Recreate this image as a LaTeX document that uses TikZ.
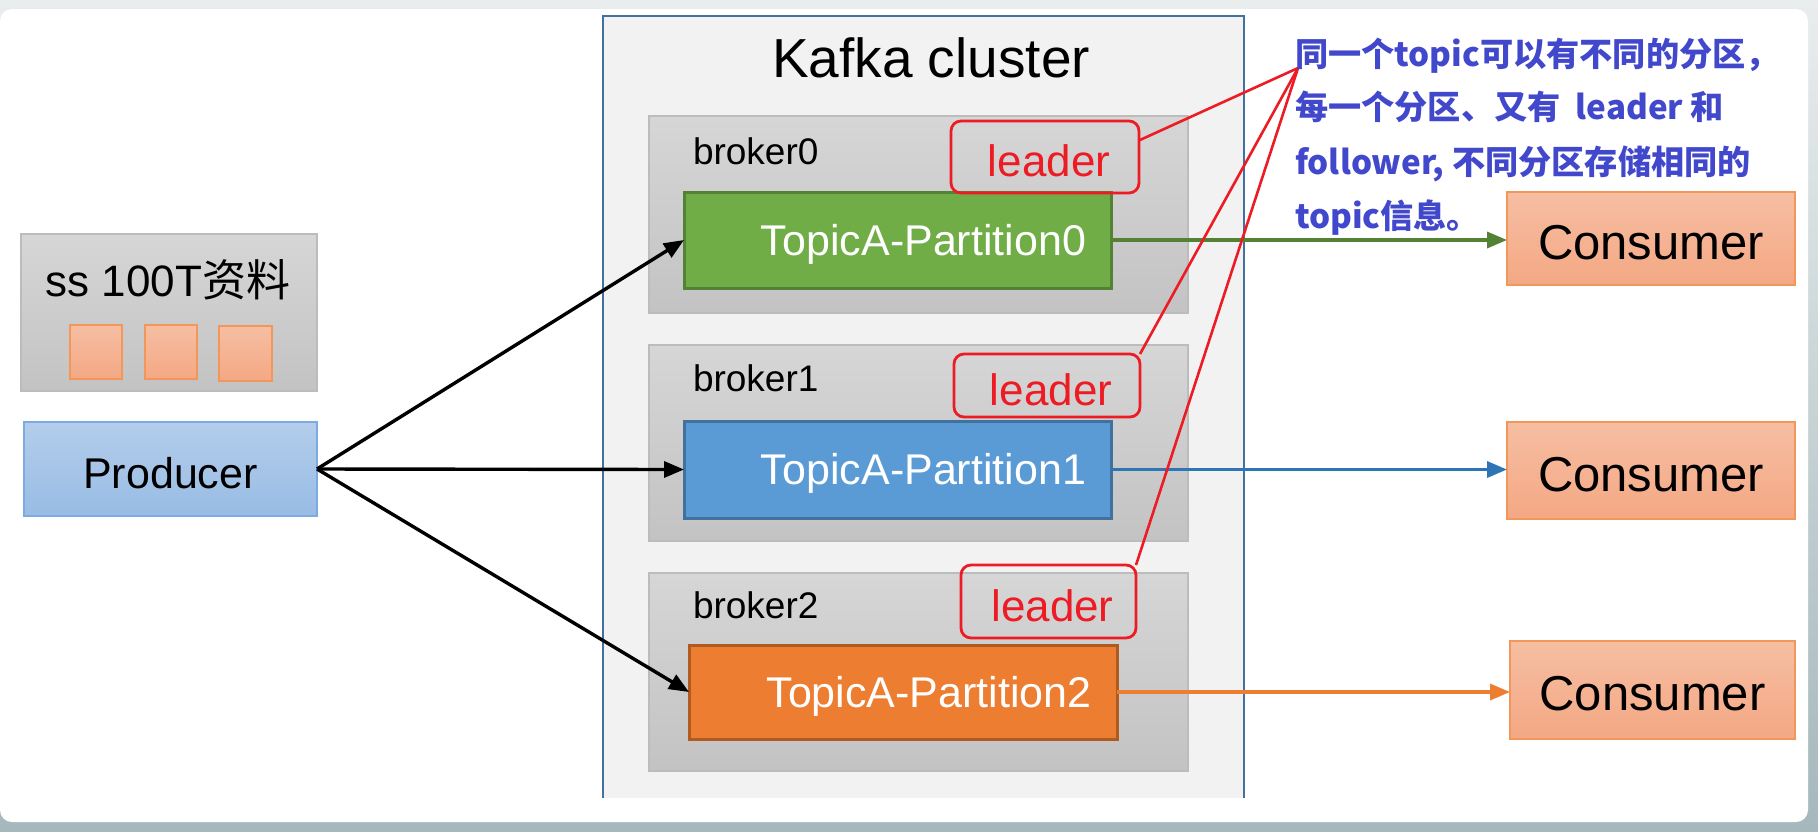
\documentclass[tikz,border=0pt]{standalone}
\usepackage{fontspec}
\setmainfont{Liberation Sans}
\newfontfamily\cjk{Noto Sans CJK SC}
\usetikzlibrary{fit,arrows.meta,calc}
\newcommand\setfs[1]{\fontsize{#1pt}{#1pt}\selectfont}
\definecolor{clusterfill}{RGB}{242,242,242}
\definecolor{clusterline}{RGB}{65,113,156}
\definecolor{brokertop}{RGB}{214,214,214}
\definecolor{brokerbot}{RGB}{195,195,195}
\definecolor{brokerline}{RGB}{188,188,188}
\definecolor{leaderred}{RGB}{237,28,36}
\definecolor{pgreen}{RGB}{112,173,71}
\definecolor{pgreenline}{RGB}{84,130,53}
\definecolor{pblue}{RGB}{91,155,213}
\definecolor{pblueline}{RGB}{65,113,156}
\definecolor{porange}{RGB}{237,125,49}
\definecolor{porangeline}{RGB}{174,90,33}
\definecolor{constop}{RGB}{246,190,162}
\definecolor{consbot}{RGB}{244,168,132}
\definecolor{consline}{RGB}{242,150,90}
\definecolor{prodtop}{RGB}{180,205,235}
\definecolor{prodbot}{RGB}{152,188,228}
\definecolor{prodline}{RGB}{125,170,225}
\definecolor{notecol}{RGB}{66,72,204}
\definecolor{bgtop}{RGB}{233,237,238}
\definecolor{bgbot}{RGB}{165,184,188}
\definecolor{arrblue}{RGB}{46,117,182}
\definecolor{arrgreen}{RGB}{84,130,53}
\definecolor{arrorange}{RGB}{237,125,49}
\begin{document}
\begin{tikzpicture}[x=0.5pt,y=-0.5pt,
  every node/.style={inner sep=0pt,outer sep=0pt},
  brokerbox/.style={draw=brokerline,line width=1pt,top color=brokertop,bottom color=brokerbot},
  brokertext/.style={anchor=west,font=\setfs{18.5},text=black},
  partbox/.style={line width=1.5pt},
  ptext/.style={text=white,font=\setfs{21.5},xshift=13pt,yshift=-2pt},
  leaderbox/.style={draw=leaderred,line width=1.4pt,rounded corners=5pt},
  leadertext/.style={text=leaderred,font=\setfs{22},yshift=-2pt,xshift=2pt},
  consbox/.style={draw=consline,line width=0.8pt,top color=constop,bottom color=consbot},
  constext/.style={text=black,font=\setfs{24.5},yshift=-2pt},
  blackarr/.style={line width=1.7pt,black,-{Triangle[length=10pt,width=8pt]}},
  colarr/.style={line width=1.7pt,-{Triangle[length=10pt,width=8pt]}},
  redline/.style={draw=leaderred,line width=1.3pt},
  note/.style={anchor=base west,text=notecol,font=\cjk\bfseries\setfs{16.6}}]
\useasboundingbox (0,0) rectangle (1818,831);
\fill[top color=bgtop,bottom color=bgbot] (0,0) rectangle (1818,831);
\fill[white,rounded corners=6pt] (0,9) rectangle (1808,822);

% cluster
\node[fit={(603,16)(1244,798)},fill=clusterfill] (cluster) {};
\draw[clusterline,line width=1.1pt] (cluster.south west) -- (cluster.north west) -- (cluster.north east) -- (cluster.south east);
\node[font=\setfs{27.5}] (title) at (931,58) {Kafka cluster};

% brokers
\node[brokerbox,fit={(649,116)(1188,313)}] (b0) {};
\node[brokerbox,fit={(649,345)(1188,541)}] (b1) {};
\node[brokerbox,fit={(649,573)(1188,771)}] (b2) {};
\node[brokertext] (b0t) at (693,151) {broker0};
\node[brokertext] (b1t) at (693,378) {broker1};
\node[brokertext] (b2t) at (693,605) {broker2};

% partitions
\node[partbox,fill=pgreen,draw=pgreenline,fit={(684,192)(1111,288)},label={[ptext]center:TopicA-Partition0}] (p0) {};
\node[partbox,fill=pblue,draw=pblueline,fit={(684,421)(1111,518)},label={[ptext]center:TopicA-Partition1}] (p1) {};
\node[partbox,fill=porange,draw=porangeline,fit={(689,645)(1117,739)},label={[ptext]center:TopicA-Partition2}] (p2) {};

% leaders
\node[leaderbox,fit={(951,121)(1139,193)},label={[leadertext]center:leader}] (l0) {};
\node[leaderbox,fit={(954,354)(1140,417)},label={[leadertext]center:leader}] (l1) {};
\node[leaderbox,fit={(961,565)(1136,638)},label={[leadertext]center:leader}] (l2) {};

% consumers
\node[consbox,fit={(1507,192)(1795,285)},label={[constext]center:Consumer}] (c0) {};
\node[consbox,fit={(1507,422)(1795,519)},label={[constext]center:Consumer}] (c1) {};
\node[consbox,fit={(1510,641)(1795,739)},label={[constext]center:Consumer}] (c2) {};

% data box
\node[brokerbox,fit={(21,234)(317,391)}] (data) {};
\node[font=\setfs{22}] (datat) at (168,280) {ss 100T{\cjk 资料}};
\node[consbox,fit={(70,325)(122,379)}] (sq1) {};
\node[consbox,fit={(145,325)(197,379)}] (sq2) {};
\node[consbox,fit={(219,326)(272,381)}] (sq3) {};

% producer
\node[draw=prodline,line width=0.8pt,top color=prodtop,bottom color=prodbot,fit={(24,422)(317,516)},label={[font=\setfs{21.5},yshift=-2pt]center:Producer}] (prod) {};

% arrows
\draw[blackarr] (prod.east) -- (p0.west);
\draw[blackarr] (prod.east) -- (p1.west);
\draw[blackarr] (prod.east) -- (p2.west);
\draw[colarr,arrgreen] (p0.east) -- (p0.east -| c0.west);
\draw[colarr,arrblue] (p1.east) -- (p1.east -| c1.west);
\draw[colarr,arrorange] (p2.east) -- (p2.east -| c2.west);

% annotation
\coordinate (tip) at (1298,68);
\draw[redline] (l0.10) -- (tip);
\draw[redline] (l1.north east) -- (tip);
\draw[redline] (l2.north east) -- (tip);
\node[note] (n1) at (1295,66) {同一个topic可以有不同的分区，};
\node[note] (n2) at (1295,119) {每一个分区、又有\ \ leader 和};
\node[note] (n3) at (1295,174) {follower, 不同分区存储相同的};
\node[note] (n4) at (1295,228) {topic信息。};
\end{tikzpicture}
\end{document}
